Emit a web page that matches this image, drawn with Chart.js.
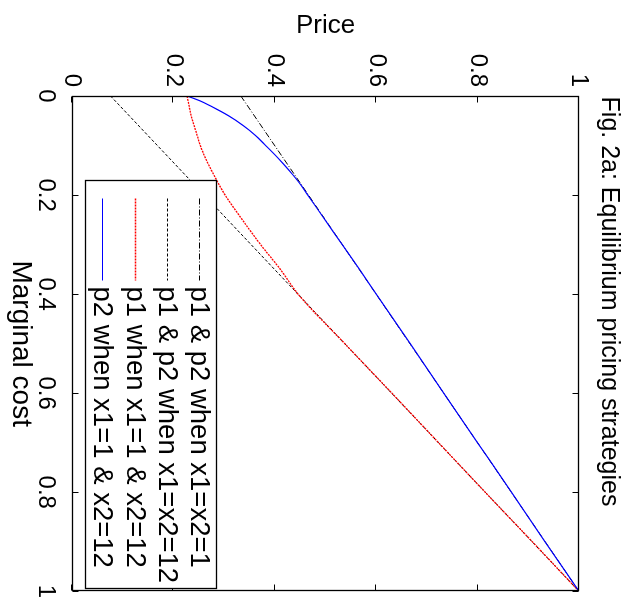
<!DOCTYPE html>
<html><head><meta charset="utf-8">
<script src="https://cdn.jsdelivr.net/npm/chart.js@4/dist/chart.umd.min.js"></script>
<style>
html,body{margin:0;padding:0;background:#fff;overflow:hidden;width:634px;height:610px;}
#wrap{position:absolute;left:12px;top:-12px;width:610px;height:634px;transform:rotate(90deg);transform-origin:50% 50%;}
canvas{display:block;}
</style></head><body>
<div id="wrap"><canvas id="c" width="610" height="634"></canvas></div>
<script>
// Marginal cost samples for the two curved series
const marginalCost = [0, 0.01, 0.02, 0.04, 0.06, 0.08, 0.1, 0.125, 0.15, 0.175, 0.2, 0.25, 0.3, 0.35, 0.4, 0.5, 0.6, 0.7, 0.8, 0.9, 1];
const p2Mixed = [0.227, 0.253, 0.273, 0.309, 0.338, 0.362, 0.382, 0.406, 0.428, 0.448, 0.465, 0.499, 0.533, 0.567, 0.600, 0.667, 0.733, 0.800, 0.867, 0.933, 1.000];
const p1Mixed = [0.227, 0.229, 0.231, 0.235, 0.241, 0.247, 0.253, 0.263, 0.275, 0.288, 0.302, 0.336, 0.372, 0.411, 0.446, 0.538, 0.631, 0.723, 0.815, 0.908, 1.000];
// Straight-line series (end points)
const marginalCostEnds = [0, 1];
const pEqualX1 = [0.333, 1.0];
const pEqualX12 = [0.076, 1.0];
// Ticks and labels
const tickValues = [0, 0.2, 0.4, 0.6, 0.8, 1];
const tickLabels = ['0', '0.2', '0.4', '0.6', '0.8', '1'];
const seriesLabels = ['p1 & p2 when x1=x2=1', 'p1 & p2 when x1=x2=12', 'p1 when x1=1 & x2=12', 'p2 when x1=1 & x2=12'];

const FONT = 'Liberation Sans, Arial, Helvetica, sans-serif';
const pts = (xs, ys) => xs.map((x, i) => ({x: x, y: ys[i]}));

const boxPlugin = {
  id: 'boxTicks',
  afterDatasetsDraw(chart) {
    const ctx = chart.ctx, a = chart.chartArea;
    const xs = chart.scales.x, ys = chart.scales.y;
    ctx.save();
    ctx.strokeStyle = '#000';
    ctx.lineWidth = 1;
    const L = Math.round(a.left) + 0.5, R = Math.round(a.right) - 0.5;
    const T = Math.round(a.top) + 0.5, B = Math.round(a.bottom) - 0.5;
    ctx.beginPath();
    tickValues.forEach(v => {
      const px = Math.round(xs.getPixelForValue(v)) + 0.5;
      ctx.moveTo(px, B); ctx.lineTo(px, B - 6);
      ctx.moveTo(px, T); ctx.lineTo(px, T + 6);
      const py = Math.round(ys.getPixelForValue(v)) + 0.5;
      ctx.moveTo(L, py); ctx.lineTo(L + 6, py);
      ctx.moveTo(R, py); ctx.lineTo(R - 6, py);
    });
    ctx.stroke();
    ctx.lineWidth = 1.3;
    ctx.strokeRect(L, T, R - L, B - T);

    // legend box inside plot
    const bw = 408, bh = 131;
    const bx = Math.round(a.right - 3 - bw) + 0.5, by = Math.round(a.bottom - 14 - bh) + 0.5;
    ctx.fillStyle = '#fff';
    ctx.fillRect(bx, by, bw, bh);
    ctx.lineWidth = 1.3;
    ctx.strokeRect(bx, by, bw, bh);
    ctx.font = '27.5px ' + FONT;
    ctx.textAlign = 'left';
    ctx.textBaseline = 'middle';
    chart.data.datasets.forEach((ds, i) => {
      const yy = Math.round(by + 16 + i * 32.4) + 0.5;
      ctx.save();
      ctx.strokeStyle = ds.borderColor;
      ctx.lineWidth = Math.max(1, ds.borderWidth);
      ctx.setLineDash(ds.borderDash || []);
      ctx.beginPath();
      ctx.moveTo(bx + 18, yy); ctx.lineTo(bx + 100, yy);
      ctx.stroke();
      ctx.restore();
      ctx.fillStyle = '#000';
      ctx.fillText(ds.label, bx + 106, yy + 1);
    });
    ctx.restore();
  }
};

new Chart(document.getElementById('c'), {
  type: 'line',
  data: {
    datasets: [
      {label: seriesLabels[0], data: pts(marginalCostEnds, pEqualX1), borderColor: '#000', borderWidth: 1, borderDash: [6, 2, 1, 2], order: 3},
      {label: seriesLabels[1], data: pts(marginalCostEnds, pEqualX12), borderColor: '#000', borderWidth: 1, borderDash: [3, 2], order: 2},
      {label: seriesLabels[2], data: pts(marginalCost, p1Mixed), borderColor: '#ff0000', borderWidth: 1.3, borderDash: [2, 1], order: 1, cubicInterpolationMode: 'monotone'},
      {label: seriesLabels[3], data: pts(marginalCost, p2Mixed), borderColor: '#0000ff', borderWidth: 1.2, order: 0, cubicInterpolationMode: 'monotone'}
    ]
  },
  options: {
    responsive: false,
    animation: false,
    devicePixelRatio: 1,
    layout: {padding: {top: 0, right: 7, bottom: 0, left: 0}},
    elements: {point: {radius: 0}, line: {fill: false}},
    plugins: {
      legend: {display: false},
      tooltip: {enabled: false},
      title: {display: true, text: 'Fig. 2a: Equilibrium pricing strategies', color: '#000',
        font: {family: FONT, size: 25, weight: 'normal'}, padding: {top: 10, bottom: 15}}
    },
    scales: {
      x: {
        type: 'linear', position: 'bottom', min: 0, max: 1,
        grid: {display: false, drawTicks: false}, border: {display: false},
        afterBuildTicks: s => { s.ticks = tickValues.map(v => ({value: v})); },
        ticks: {color: '#000', font: {family: FONT, size: 24}, padding: 12, maxRotation: 0, autoSkip: false,
          callback: (v, i) => tickLabels[i]},
        title: {display: true, text: 'Marginal cost', color: '#000', font: {family: FONT, size: 28}, padding: {top: 0, bottom: 4}},
        afterFit: s => { s.height = 72; }
      },
      y: {
        type: 'linear', position: 'left', min: 0, max: 1,
        grid: {display: false, drawTicks: false}, border: {display: false},
        afterBuildTicks: s => { s.ticks = tickValues.map(v => ({value: v})); },
        ticks: {color: '#000', font: {family: FONT, size: 24}, padding: 9, autoSkip: false,
          callback: (v, i) => tickLabels[i]},
        title: {display: true, text: 'Price', color: '#000', font: {family: FONT, size: 26}, padding: {top: 10, bottom: 0}},
        afterFit: s => { s.width = 96; }
      }
    }
  },
  plugins: [boxPlugin]
});
</script>
</body></html>
